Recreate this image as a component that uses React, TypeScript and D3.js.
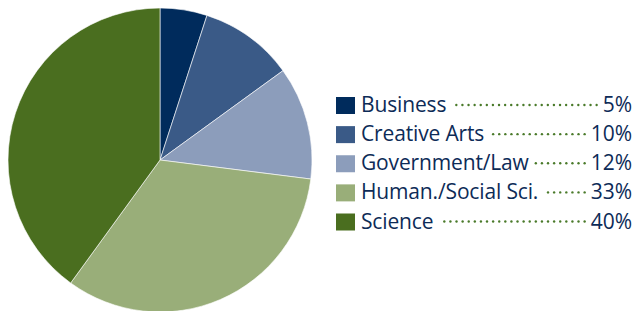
import React, { useEffect, useRef } from "react";
import * as d3 from "d3";

const categories = ["Business", "Creative Arts", "Government/Law", "Human./Social Sci.", "Science"];
const values = [5, 10, 12, 33, 40];
const colors = ["#002b5c", "#3a5a87", "#8c9dbb", "#99ae79", "#4a6e1f"];

export default function App() {
  const ref = useRef<SVGSVGElement>(null);
  useEffect(() => {
    const svg = d3.select(ref.current);
    svg.selectAll("*").remove();
    const cx = 160, cy = 160, r = 152;
    const pie = d3.pie<number>().sort(null).value((d) => d)(values);
    const arc = d3.arc<d3.PieArcDatum<number>>().innerRadius(0).outerRadius(r);
    svg.append("g").attr("transform", `translate(${cx},${cy})`)
      .selectAll("path").data(pie).join("path")
      .attr("d", arc as any)
      .attr("fill", (_, i) => colors[i])
      .attr("stroke", "#ffffff").attr("stroke-width", 0.6);

    const y = d3.scaleLinear().domain([0, 4]).range([112, 228.5]);
    const lg = svg.append("g");
    const right = 632;
    categories.forEach((c, i) => {
      const base = y(i);
      lg.append("rect").attr("x", 336).attr("y", base - 15).attr("width", 19).attr("height", 17).attr("fill", colors[i]);
      const t = lg.append("text").attr("x", 361).attr("y", base).text(c)
        .attr("font-family", "Open Sans").attr("font-size", 21).attr("letter-spacing", -0.15).attr("fill", "#0d2b57");
      const p = lg.append("text").attr("x", right).attr("y", base).attr("text-anchor", "end").text(values[i] + "%")
        .attr("font-family", "Open Sans").attr("font-size", 21).attr("fill", "#0d2b57");
      const tEnd = 361 + (t.node() as SVGTextElement).getComputedTextLength();
      const pStart = right - (p.node() as SVGTextElement).getComputedTextLength();
      const dots: number[] = [];
      for (let x = pStart - 6; x >= tEnd + 7; x -= 6.1) dots.push(x);
      lg.selectAll(null).data(dots).join("circle")
        .attr("cx", (d) => d).attr("cy", base - 7).attr("r", 1.2).attr("fill", "#4a7a2a");
    });
  }, []);
  return (
    <svg ref={ref} width={635} height={311} style={{ position: "absolute", left: 0, top: 0, background: "#fff" }} />
  );
}
